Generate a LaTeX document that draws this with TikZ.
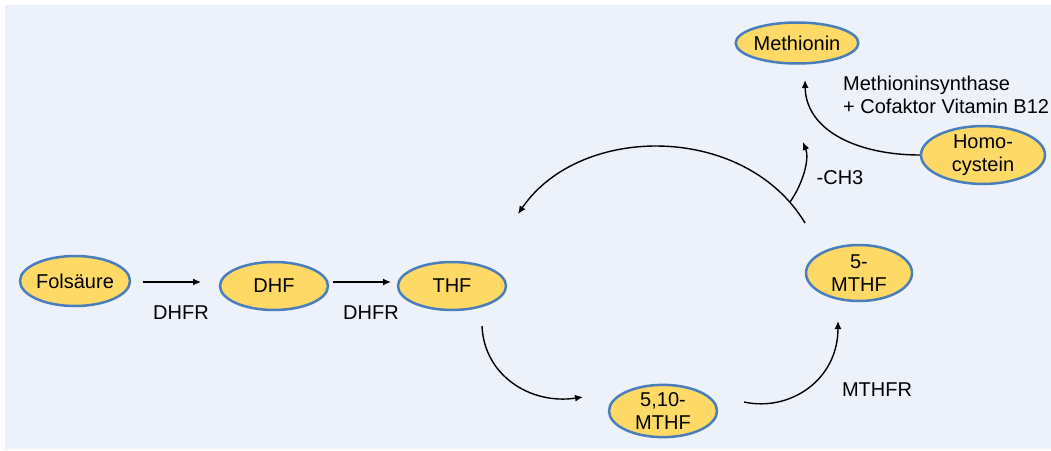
\documentclass[tikz,border=0pt]{standalone}
\usepackage{fontspec}
\setmainfont{Liberation Sans}
\usetikzlibrary{shapes.geometric,arrows.meta}
\definecolor{bgblue}{HTML}{EDF2FA}
\definecolor{nodefill}{HTML}{FED966}
\definecolor{nodeborder}{HTML}{4A7EBB}
\tikzset{
  mol/.style={ellipse, draw=nodeborder, line width=2.5pt, fill=nodefill, inner sep=0pt,
    align=center, font=\fontsize{20}{23}\selectfont},
  lbl/.style={font=\fontsize{20}{23}\selectfont, inner sep=0pt, align=left},
  conn/.style={line width=1.4pt, -{Latex[length=8pt,width=7pt]}},
}
\begin{document}
\begin{tikzpicture}[x=1pt,y=-1pt]
\useasboundingbox (0,0) rectangle (1051,450);
\fill[white] (0,0) rectangle (1051,450);
\fill[bgblue] (5,5) rectangle (1051,449);

\node[mol, minimum width=110pt, minimum height=50pt] (fol) at (75,281) {Folsäure};
\node[mol, minimum width=108pt, minimum height=48pt] (dhf) at (274,286) {DHF};
\node[mol, minimum width=108pt, minimum height=48pt] (thf) at (452,286) {THF};
\node[mol, minimum width=108pt, minimum height=50pt] (m510) at (663,411) {5,10-\\MTHF};
\node[mol, minimum width=106pt, minimum height=56pt] (m5) at (859,273) {5-\\MTHF};
\node[mol, minimum width=124pt, minimum height=55pt] (hcy) at (983,155) {Homo-\\cystein};
\node[mol, minimum width=120pt, minimum height=41pt] (met) at (797,43) {Methionin};

\node[lbl] (l1) at (181,313) {DHFR};
\node[lbl] (l2) at (371,313) {DHFR};
\node[lbl] (l3) at (877,390) {MTHFR};
\node[lbl] (l4) at (840,178) {-CH3};
\node[lbl, anchor=north west] (l5) at (843,76) {Methioninsynthase\\+ Cofaktor Vitamin B12};

\coordinate (a1s) at (143,282); \coordinate (a1e) at (201,282);
\coordinate (a2s) at (333,282); \coordinate (a2e) at (391,282);
\draw[conn] (a1s) -- (a1e);
\draw[conn] (a2s) -- (a2e);

\coordinate (c1s) at (482,326); \coordinate (c1e) at (583,397);
\draw[conn] (c1s) .. controls (484,375) and (530,405) .. (c1e);

\coordinate (c2s) at (744,402); \coordinate (c2e) at (838,321);
\draw[conn] (c2s) .. controls (790,412) and (838,380) .. (c2e);

\coordinate (c3s) at (805,223); \coordinate (c3e) at (518,214);
\draw[conn] (c3s) .. controls (745,123) and (580,123) .. (c3e);

\coordinate (c4s) at (790,202); \coordinate (c4e) at (803,142);
\draw[conn] (c4s) .. controls (802,185) and (810,160) .. (c4e);

\coordinate (c5e) at (805,80);
\draw[conn] (hcy.west) .. controls (860,155) and (806,132) .. (c5e);
\end{tikzpicture}
\end{document}
